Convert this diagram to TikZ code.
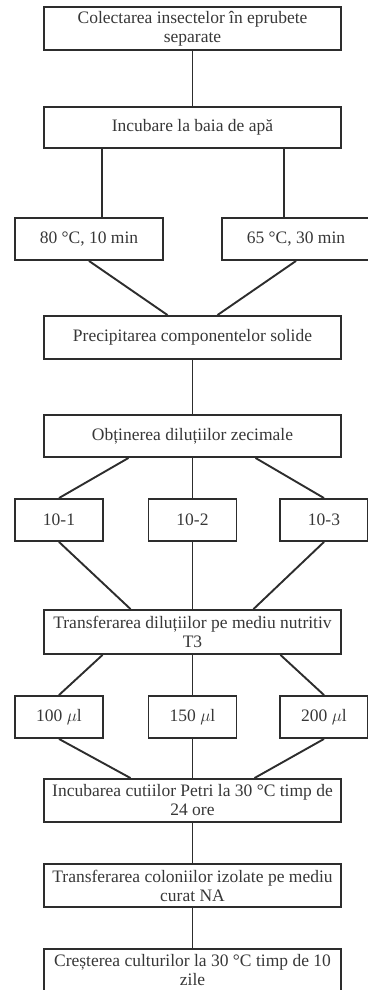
\documentclass[tikz,border=0pt]{standalone}
\usepackage{fontspec}
\setmainfont{Liberation Serif}
\definecolor{fcline}{RGB}{45,45,45}
\definecolor{fctext}{RGB}{55,55,55}

\begin{document}
\begin{tikzpicture}[x=1pt,y=1pt,line width=1.9pt,
  widebox/.style={draw=fcline,text=fctext,minimum width=297pt,minimum height=43pt,
    inner sep=0pt,align=center,font=\fontsize{17.5}{19}\selectfont},
  sidebox/.style={widebox,minimum width=148pt,minimum height=42pt},
  smallbox/.style={widebox,minimum width=88pt,minimum height=42pt},
  link/.style={draw=fcline}]
  \useasboundingbox (0,0) rectangle (367,-990);
  \node[widebox] (collect) at (192.5,-28.5) {Colectarea insectelor în eprubete\\separate};
  \node[widebox,minimum height=41pt] (bath) at (192.5,-127.5) {Incubare la baia de apă};
  \node[sidebox] (hot) at (89,-239) {80 °C, 10 min};
  \node[sidebox] (warm) at (296,-239) {65 °C, 30 min};
  \node[widebox] (precip) at (192.5,-337.5) {Precipitarea componentelor solide};
  \node[widebox,minimum height=42pt] (dil) at (192.5,-436) {Obținerea diluțiilor zecimale};
  \node[smallbox] (d1) at (59,-520) {10-1};
  \node[smallbox] (d2) at (192.5,-520) {10-2};
  \node[smallbox] (d3) at (324,-520) {10-3};
  \node[widebox,minimum height=44pt] (transfer) at (192.5,-632) {Transferarea diluțiilor pe mediu nutritiv\\T3};
  \node[smallbox] (v1) at (59,-717) {100 $\mu$l};
  \node[smallbox] (v2) at (192.5,-717) {150 $\mu$l};
  \node[smallbox] (v3) at (324,-717) {200 $\mu$l};
  \node[widebox] (petri) at (192.5,-800.5) {Incubarea cutiilor Petri la 30 °C timp de\\24 ore};
  \node[widebox] (colony) at (192.5,-885.5) {Transferarea coloniilor izolate pe mediu\\curat NA};
  \node[widebox,minimum height=42pt] (growth) at (192.5,-970) {Creșterea culturilor la 30 °C timp de 10\\zile};

  \draw[link] (collect.south) -- (bath.north);
  \draw[link] ([xshift=13pt]hot.north) -- ([xshift=13pt]hot.north |- bath.south);
  \draw[link] ([xshift=-12pt]warm.north) -- ([xshift=-12pt]warm.north |- bath.south);
  \draw[link] (hot.south) -- ([xshift=-25pt]precip.north);
  \draw[link] (warm.south) -- ([xshift=25pt]precip.north);
  \draw[link] (precip.south) -- (dil.north);
  \draw[link] ([xshift=-64pt]dil.south) -- (d1.north);
  \draw[link] (dil.south) -- (d2.north);
  \draw[link] ([xshift=63pt]dil.south) -- (d3.north);
  \draw[link] (d1.south) -- ([xshift=-62pt]transfer.north);
  \draw[link] (d2.south) -- (transfer.north);
  \draw[link] (d3.south) -- ([xshift=61pt]transfer.north);
  \draw[link] ([xshift=-90pt]transfer.south) -- (v1.north);
  \draw[link] (transfer.south) -- (v2.north);
  \draw[link] ([xshift=88pt]transfer.south) -- (v3.north);
  \draw[link] (v1.south) -- ([xshift=-62pt]petri.north);
  \draw[link] (v2.south) -- (petri.north);
  \draw[link] (v3.south) -- ([xshift=62pt]petri.north);
  \draw[link] (petri.south) -- (colony.north);
  \draw[link] (colony.south) -- (growth.north);
\end{tikzpicture}
\end{document}
